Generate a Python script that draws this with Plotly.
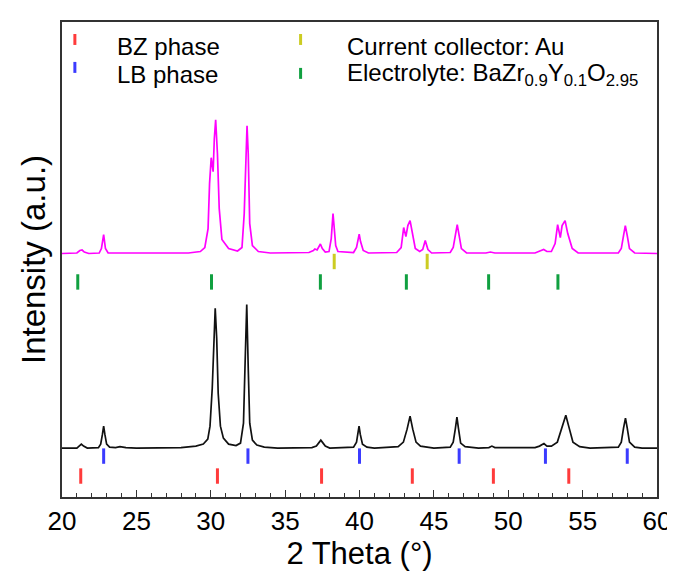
import plotly.graph_objects as go

# ---- Data (2theta in degrees, intensity in arbitrary units above baseline) ----
black_x = [20.0, 21.0, 21.15, 21.3, 21.45, 21.7, 22.45, 22.6, 22.72, 22.8, 22.88, 23.0, 23.2, 23.6, 23.9, 24.3,
           25.0, 28.0, 29.0, 29.5, 29.8, 29.95, 30.1, 30.2, 30.3, 30.4, 30.5, 30.65, 30.85, 31.2, 31.7, 32.0, 32.2,
           32.3, 32.42, 32.52, 32.62, 32.8, 33.1, 33.6, 34.5, 36.8, 37.1, 37.3, 37.4, 37.5, 37.7, 38.0, 39.6,
           39.8, 39.9, 39.97, 40.05, 40.2, 40.5, 41.0, 42.6, 42.95, 43.2, 43.4, 43.58, 43.8, 44.1, 45.0, 46.1,
           46.3, 46.45, 46.55, 46.65, 46.8, 47.1, 48.0, 48.7, 48.9, 49.1, 51.8, 52.1, 52.4, 52.6, 52.9, 53.3,
           53.6, 53.87, 54.08, 54.35, 54.8, 55.5, 57.4, 57.6, 57.75, 57.88, 58.0, 58.15, 58.5, 59.0, 60.0]
black_y = [0, 0, 2, 4, 2, 0, 0.5, 4, 14, 22, 14, 4, 1, 0.5, 1.5, 0.5,
           0, 0.5, 2, 4, 9, 22, 60, 110, 140, 110, 55, 22, 10, 4, 2.5, 5, 25,
           80, 144, 80, 25, 8, 3, 1, 0, 0.5, 2, 6, 8, 6, 2, 0, 1,
           6, 15, 22, 14, 4, 1, 0, 1.5, 6, 19, 32, 19, 6, 2, 0, 1,
           6, 20, 31, 20, 5, 1.5, 0, 0.5, 2, 0.5, 0.5, 2, 4.5, 2, 2, 6,
           21, 33, 21, 6, 1.5, 0, 1, 6, 20, 30, 20, 6, 1, 0, 0]

magenta_x = [20.0, 21.0, 21.2, 21.35, 21.5, 21.8, 22.5, 22.65, 22.8, 22.92, 23.1, 28.5, 29.3, 29.6, 29.82, 29.92,
             30.03, 30.1, 30.16, 30.24, 30.33, 30.45, 30.57, 30.75, 31.2, 31.8, 32.1, 32.25, 32.35, 32.44, 32.52,
             32.62, 32.8, 33.2, 34.0, 36.6, 36.9, 37.0, 37.15, 37.3, 37.37, 37.5, 37.7, 37.95, 38.1, 38.22, 38.3,
             38.4, 38.55, 39.6, 39.8, 39.9, 39.98, 40.07, 40.25, 40.6, 42.5, 42.8, 42.97, 43.12, 43.25, 43.4,
             43.55, 43.75, 44.05, 44.25, 44.42, 44.6, 44.85, 46.1, 46.3, 46.45, 46.57, 46.7, 46.85, 47.2, 48.5,
             48.8, 49.1, 51.8, 52.1, 52.38, 52.6, 52.9, 53.15, 53.32, 53.5, 53.62, 53.82, 54.0, 54.3, 54.7, 57.4,
             57.6, 57.75, 57.87, 58.0, 58.15, 58.5, 60.0]
magenta_y = [0, 0.5, 3, 3.5, 1.5, 0, 0.5, 5, 19, 5, 0.5, 0.5, 2, 6, 25, 70,
             96, 84, 82, 115, 134, 100, 45, 14, 5, 2.5, 6, 40, 100, 128, 100,
             30, 8, 2, 0.5, 1, 3, 4.5, 3.5, 7, 9.5, 5, 1.5, 2, 15, 40, 26,
             8, 2, 1, 6, 14, 19.5, 12, 3, 0.5, 1, 6, 26, 17, 28, 33,
             20, 5, 2, 4, 13, 4, 0.5, 1, 6, 20, 29, 18, 5, 0.5, 0.5,
             1.5, 0.5, 0.5, 2, 4, 2, 2, 10, 29, 16, 28, 33, 20, 5, 0.5, 0.5,
             5, 18, 28, 18, 5, 0.5, 0]

bz_pos = [21.26, 30.45, 37.45, 43.55, 49.0, 54.07]
lb_pos = [22.8, 32.5, 40.0, 46.7, 52.5, 58.0]
au_pos = [38.3, 44.55]
bzy_pos = [21.06, 30.05, 37.37, 43.15, 48.68, 53.34]

# vertical offsets of the stacked patterns and tick rows (arbitrary units)
black_offset = 49
magenta_offset = 244
bz_row, lb_row, au_row, bzy_row = 21, 41, 236, 215.5

FONT = "Liberation Sans, Arial, sans-serif"
C_RED, C_BLUE, C_YEL, C_GRN = "#FF3B3B", "#3B3BFF", "#CCCC22", "#10A040"

fig = go.Figure()
fig.add_trace(go.Scatter(x=black_x, y=[v + black_offset for v in black_y], mode="lines",
                         line=dict(color="#111111", width=1.7), showlegend=False))
fig.add_trace(go.Scatter(x=magenta_x, y=[v + magenta_offset for v in magenta_y], mode="lines",
                         line=dict(color="#FF00FF", width=1.7), showlegend=False))

for pos, row, col in [(bz_pos, bz_row, C_RED), (lb_pos, lb_row, C_BLUE),
                      (au_pos, au_row, C_YEL), (bzy_pos, bzy_row, C_GRN)]:
    fig.add_trace(go.Scatter(x=pos, y=[row] * len(pos), mode="markers",
                             marker=dict(symbol="line-ns", size=11, line=dict(color=col, width=3)),
                             showlegend=False))

# manual legend
def px_x(px):
    return (px - 54) / 601.0

def px_y(py):
    return (489 - py) / 476.0

legend_items = [
    (67, 25, 36, C_RED, 108, 38, "BZ phase"),
    (67, 53, 64, C_BLUE, 108, 66, "LB phase"),
    (295, 25, 36, C_YEL, 340, 38, "Current collector: Au"),
    (295, 59, 70, C_GRN, 340, 66, "Electrolyte: BaZr<sub>0.9</sub>Y<sub>0.1</sub>O<sub>2.95</sub>"),
]
for mx, y0, y1, col, tx, ty, txt in legend_items:
    fig.add_shape(type="line", xref="paper", yref="paper", x0=px_x(mx), x1=px_x(mx),
                  y0=px_y(y1), y1=px_y(y0), line=dict(color=col, width=3))
    fig.add_annotation(xref="paper", yref="paper", x=px_x(tx), y=px_y(ty), text=txt,
                       showarrow=False, xanchor="left", yanchor="middle",
                       font=dict(family=FONT, size=24, color="black"))

fig.update_layout(
    width=675, height=571,
    margin=dict(l=54, r=20, t=13, b=82),
    paper_bgcolor="white", plot_bgcolor="white",
    font=dict(family=FONT, color="black"),
    showlegend=False,
)
fig.update_xaxes(range=[20, 60], tick0=20, dtick=5, ticks="inside", ticklen=7, tickwidth=1.3,
                 tickcolor="#333333", showline=True, linecolor="#333333", linewidth=1.6, mirror=True,
                 showgrid=False, zeroline=False,
                 minor=dict(dtick=1, ticks="inside", ticklen=4, tickwidth=1.1, tickcolor="#333333"),
                 tickfont=dict(family=FONT, size=26, color="black"),
                 title=dict(text="2 Theta (°)", font=dict(family=FONT, size=31, color="black"), standoff=2))
fig.update_yaxes(range=[0, 476], showticklabels=False, ticks="", showline=True, linecolor="#333333",
                 linewidth=1.6, mirror=True, showgrid=False, zeroline=False,
                 title=dict(text="Intensity (a.u.)", font=dict(family=FONT, size=33, color="black"), standoff=5))

fig.write_html("out.html")
